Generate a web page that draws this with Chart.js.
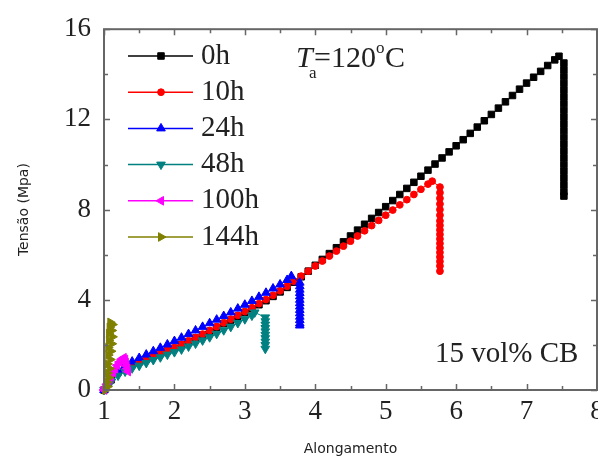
<!DOCTYPE html>
<html>
<head>
<meta charset="utf-8">
<title>Tensão x Alongamento</title>
<script src="https://cdn.jsdelivr.net/npm/chart.js@4.4.1/dist/chart.umd.min.js"></script>
<style>
html, body { margin: 0; padding: 0; background: #fff; overflow: hidden; }
#wrap { width: 612px; height: 461px; }
</style>
</head>
<body>
<div id="wrap"><canvas id="tensileChart" width="612" height="461"></canvas></div>
<script>
// Values (x = alongamento, y = tensão in MPa)
const seriesLabels = ['0h', '10h', '24h', '48h', '100h', '144h'];

const elong0h = [1.0, 1.1, 1.2, 1.3, 1.4, 1.5, 1.6, 1.7, 1.8, 1.9,
    2.0, 2.1, 2.2, 2.3, 2.4, 2.5, 2.6, 2.7, 2.8, 2.9,
    3.0, 3.1, 3.2, 3.3, 3.4, 3.5, 3.6, 3.7, 3.8, 3.9,
    4.0, 4.1, 4.2, 4.3, 4.4, 4.5, 4.6, 4.7, 4.8, 4.9,
    5.0, 5.1, 5.2, 5.3, 5.4, 5.5, 5.6, 5.7, 5.8, 5.9,
    6.0, 6.1, 6.2, 6.3, 6.4, 6.5, 6.6, 6.7, 6.8, 6.9,
    7.0, 7.1, 7.2, 7.3, 7.4, 7.46,
    7.53, 7.53, 7.53, 7.53, 7.53, 7.53, 7.53, 7.53, 7.53, 7.53, 7.53,
    7.53, 7.53, 7.53, 7.53, 7.53, 7.53, 7.53, 7.53, 7.53, 7.53];
const stress0h = [0, 0.45, 0.8, 1.0, 1.12, 1.25, 1.37, 1.5, 1.62, 1.73,
    1.85, 2.0, 2.15, 2.3, 2.45, 2.6, 2.78, 2.95, 3.1, 3.27,
    3.44, 3.6, 3.78, 3.96, 4.15, 4.35, 4.55, 4.78, 5.02, 5.27,
    5.53, 5.79, 6.05, 6.31, 6.57, 6.83, 7.09, 7.35, 7.61, 7.87,
    8.13, 8.4, 8.67, 8.94, 9.21, 9.48, 9.75, 10.02, 10.29, 10.56,
    10.83, 11.1, 11.38, 11.66, 11.94, 12.22, 12.5, 12.78, 13.06, 13.34,
    13.61, 13.87, 14.13, 14.39, 14.64, 14.8,
    14.5, 14.2, 13.9, 13.6, 13.3, 13.0, 12.7, 12.4, 12.1, 11.8, 11.5,
    11.2, 10.9, 10.6, 10.3, 10.0, 9.7, 9.4, 9.1, 8.8, 8.6];

const elong10h = [1.0, 1.1, 1.2, 1.3, 1.4, 1.5, 1.6, 1.7, 1.8, 1.9,
    2.0, 2.1, 2.2, 2.3, 2.4, 2.5, 2.6, 2.7, 2.8, 2.9,
    3.0, 3.1, 3.2, 3.3, 3.4, 3.5, 3.6, 3.7, 3.8, 3.9,
    4.0, 4.1, 4.2, 4.3, 4.4, 4.5, 4.6, 4.7, 4.8, 4.9,
    5.0, 5.1, 5.2, 5.3, 5.4, 5.5, 5.6, 5.66,
    5.77, 5.77, 5.77, 5.77, 5.77, 5.77, 5.77, 5.77, 5.77,
    5.77, 5.77, 5.77, 5.77, 5.77, 5.77, 5.77, 5.77, 5.77];
const stress10h = [0, 0.45, 0.8, 1.0, 1.13, 1.26, 1.39, 1.52, 1.64, 1.76,
    1.88, 2.03, 2.18, 2.33, 2.48, 2.64, 2.81, 2.98, 3.14, 3.31,
    3.48, 3.65, 3.83, 4.01, 4.2, 4.4, 4.6, 4.82, 5.05, 5.27,
    5.5, 5.72, 5.94, 6.16, 6.38, 6.6, 6.83, 7.06, 7.29, 7.52,
    7.75, 7.98, 8.21, 8.44, 8.67, 8.9, 9.13, 9.26,
    9.0, 8.75, 8.5, 8.25, 8.0, 7.75, 7.5, 7.3, 7.1,
    6.9, 6.7, 6.5, 6.3, 6.1, 5.9, 5.7, 5.5, 5.27];

const elong24h = [1.0, 1.05, 1.1, 1.2, 1.3, 1.4, 1.5, 1.6, 1.7, 1.8, 1.9,
    2.0, 2.1, 2.2, 2.3, 2.4, 2.5, 2.6, 2.7, 2.8, 2.9,
    3.0, 3.1, 3.2, 3.3, 3.4, 3.5, 3.6, 3.66,
    3.78, 3.78, 3.78, 3.78, 3.78, 3.78, 3.78, 3.78, 3.78, 3.78, 3.78, 3.78, 3.78, 3.78];
const stress24h = [0, 0.3, 0.55, 0.87, 1.08, 1.26, 1.42, 1.57, 1.72, 1.87, 2.02,
    2.17, 2.32, 2.48, 2.64, 2.8, 2.96, 3.12, 3.28, 3.44, 3.61,
    3.78, 3.95, 4.13, 4.31, 4.5, 4.68, 4.88, 5.05,
    4.76, 4.6, 4.45, 4.3, 4.15, 4.0, 3.85, 3.7, 3.55, 3.4, 3.25, 3.1, 2.95, 2.86];

const elong48h = [1.0, 1.1, 1.2, 1.3, 1.4, 1.5, 1.6, 1.7, 1.8, 1.9,
    2.0, 2.1, 2.2, 2.3, 2.4, 2.5, 2.6, 2.7, 2.8, 2.9,
    3.0, 3.1, 3.14,
    3.29, 3.29, 3.29, 3.29, 3.29, 3.29, 3.29, 3.29, 3.29, 3.29];
const stress48h = [0, 0.38, 0.64, 0.82, 0.96, 1.08, 1.2, 1.33, 1.45, 1.57,
    1.68, 1.8, 1.93, 2.06, 2.2, 2.34, 2.49, 2.65, 2.8, 2.97,
    3.14, 3.3, 3.44,
    3.22, 3.05, 2.9, 2.75, 2.6, 2.45, 2.3, 2.15, 2.0, 1.83];

const elong100h = [1.0, 1.02, 1.04, 1.06, 1.08, 1.1, 1.13, 1.16, 1.19, 1.22, 1.25, 1.28,
    1.3, 1.31, 1.32, 1.33, 1.34];
const stress100h = [0, 0.12, 0.25, 0.38, 0.5, 0.62, 0.78, 0.94, 1.1, 1.24, 1.36, 1.43,
    1.35, 1.22, 1.08, 0.95, 0.82];

const elong144h = [1.02, 1.05, 1.04, 1.07, 1.05, 1.08, 1.05, 1.09, 1.06, 1.1,
    1.06, 1.11, 1.07, 1.12, 1.07, 1.11, 1.08, 1.12, 1.09];
const stress144h = [0, 0.15, 0.35, 0.55, 0.75, 0.95, 1.15, 1.35, 1.55, 1.72,
    1.88, 2.05, 2.2, 2.36, 2.5, 2.64, 2.78, 2.9, 3.0];

const xTickValues = [1, 2, 3, 4, 5, 6, 7, 8];
const yTickValues = [0, 4, 8, 12, 16];

// Styles
const seriesColors = ['#000000', '#ff0000', '#0000ff', '#008080', '#ff00ff', '#808000'];
const seriesMarkers = [
    { style: 'rect', rot: 0, r: 4.6 },
    { style: 'circle', rot: 0, r: 3.4 },
    { style: 'triangle', rot: 0, r: 5 },
    { style: 'triangle', rot: 180, r: 5 },
    { style: 'triangle', rot: 270, r: 5 },
    { style: 'triangle', rot: 90, r: 5 }
];
const serifFont = "'Liberation Serif', 'Times New Roman', serif";
const sansFont = "'DejaVu Sans', sans-serif";
const axisColor = '#666666';
const textColor = '#222222';

function toPoints(xs, ys) {
    return xs.map((x, i) => ({ x: x, y: ys[i] }));
}

const seriesData = [
    toPoints(elong0h, stress0h),
    toPoints(elong10h, stress10h),
    toPoints(elong24h, stress24h),
    toPoints(elong48h, stress48h),
    toPoints(elong100h, stress100h),
    toPoints(elong144h, stress144h)
];

// Marker shape, same geometry as Chart.js point styles
function markerPath(ctx, m, x, y) {
    ctx.beginPath();
    if (m.style === 'circle') {
        ctx.arc(x, y, m.r, 0, Math.PI * 2);
    } else if (m.style === 'rect') {
        const s = m.r * Math.SQRT1_2;
        ctx.rect(x - s, y - s, 2 * s, 2 * s);
    } else {
        let a = m.rot * Math.PI / 180;
        for (let k = 0; k < 3; k++) {
            const px = x + Math.sin(a) * m.r;
            const py = y - Math.cos(a) * m.r;
            if (k === 0) ctx.moveTo(px, py); else ctx.lineTo(px, py);
            a += 2 * Math.PI / 3;
        }
        ctx.closePath();
    }
}

// Frame, inward ticks, legend and the two notes
const decorations = {
    id: 'decorations',
    afterDraw(chart) {
        const ctx = chart.ctx;
        const area = chart.chartArea;
        const xs = chart.scales.x;
        const ys = chart.scales.y;
        ctx.save();

        // box
        ctx.strokeStyle = axisColor;
        ctx.lineWidth = 2;
        ctx.strokeRect(area.left, area.top, area.right - area.left, area.bottom - area.top);

        // inward ticks on all four sides
        ctx.lineWidth = 1.5;
        ctx.beginPath();
        for (let v = 1; v <= 8; v += 0.5) {
            const len = Number.isInteger(v) ? 6 : 4;
            const px = Math.round(xs.getPixelForValue(v)) + 0.5;
            ctx.moveTo(px, area.bottom); ctx.lineTo(px, area.bottom - len);
            ctx.moveTo(px, area.top); ctx.lineTo(px, area.top + len);
        }
        for (let v = 0; v <= 16; v += 2) {
            const len = v % 4 === 0 ? 6 : 4;
            const py = Math.round(ys.getPixelForValue(v)) + 0.5;
            ctx.moveTo(area.left, py); ctx.lineTo(area.left + len, py);
            ctx.moveTo(area.right, py); ctx.lineTo(area.right - len, py);
        }
        ctx.stroke();

        // legend
        ctx.textAlign = 'left';
        ctx.textBaseline = 'middle';
        ctx.font = '29px ' + serifFont;
        seriesLabels.forEach((label, i) => {
            const y = 56 + i * 36.2;
            ctx.strokeStyle = seriesColors[i];
            ctx.fillStyle = seriesColors[i];
            ctx.lineWidth = 1.5;
            ctx.beginPath();
            ctx.moveTo(128, y); ctx.lineTo(193, y);
            ctx.stroke();
            ctx.lineWidth = 1;
            markerPath(ctx, seriesMarkers[i], 161, y);
            ctx.fill();
            ctx.stroke();
            ctx.fillStyle = textColor;
            ctx.fillText(label, 201, y);
        });

        // T_a = 120 °C
        ctx.textBaseline = 'alphabetic';
        ctx.fillStyle = textColor;
        ctx.font = 'italic 30px ' + serifFont;
        ctx.fillText('T', 296, 67);
        ctx.font = '17px ' + serifFont;
        ctx.fillText('a', 309, 78);
        ctx.font = '30px ' + serifFont;
        ctx.fillText('=120', 314, 67);
        ctx.font = '17px ' + serifFont;
        ctx.fillText('o', 376, 53);
        ctx.font = '30px ' + serifFont;
        ctx.fillText('C', 385, 67);

        // sample note
        ctx.font = '29px ' + serifFont;
        ctx.fillText('15 vol% CB', 435, 362);

        ctx.restore();
    }
};

const ctx = document.getElementById('tensileChart').getContext('2d');
const tensileChart = new Chart(ctx, {
    type: 'scatter',
    data: {
        datasets: seriesLabels.map((label, i) => ({
            label: label,
            data: seriesData[i],
            showLine: true,
            borderColor: seriesColors[i],
            borderWidth: 1,
            backgroundColor: seriesColors[i],
            pointStyle: seriesMarkers[i].style,
            pointRotation: seriesMarkers[i].rot,
            pointRadius: seriesMarkers[i].r,
            pointBorderWidth: 1,
            pointBorderColor: seriesColors[i],
            pointBackgroundColor: seriesColors[i],
            clip: false,
            order: seriesLabels.length - i
        }))
    },
    options: {
        responsive: false,
        animation: false,
        layout: { padding: { left: 16, top: 26, right: 15, bottom: 0 } },
        plugins: {
            legend: { display: false },
            tooltip: { enabled: false }
        },
        scales: {
            x: {
                type: 'linear',
                min: 1,
                max: 8,
                afterBuildTicks: (scale) => { scale.ticks = xTickValues.map(v => ({ value: v })); },
                afterFit: (scale) => { scale.height = 71; },
                ticks: {
                    font: { family: serifFont, size: 27 },
                    color: textColor,
                    padding: 6,
                    maxRotation: 0,
                    autoSkip: false
                },
                grid: { display: false, drawTicks: false },
                border: { display: false },
                title: {
                    display: true,
                    text: 'Alongamento',
                    font: { family: sansFont, size: 14 },
                    color: textColor,
                    padding: { top: 0, bottom: 3 }
                }
            },
            y: {
                type: 'linear',
                min: 0,
                max: 16,
                afterBuildTicks: (scale) => { scale.ticks = yTickValues.map(v => ({ value: v })); },
                afterFit: (scale) => { scale.width = 88; },
                ticks: {
                    font: { family: serifFont, size: 27 },
                    color: textColor,
                    padding: 13
                },
                grid: { display: false, drawTicks: false },
                border: { display: false },
                title: {
                    display: true,
                    text: 'Tensão (Mpa)',
                    font: { family: sansFont, size: 14 },
                    color: textColor,
                    padding: 0
                }
            }
        }
    },
    plugins: [decorations]
});
</script>
</body>
</html>
